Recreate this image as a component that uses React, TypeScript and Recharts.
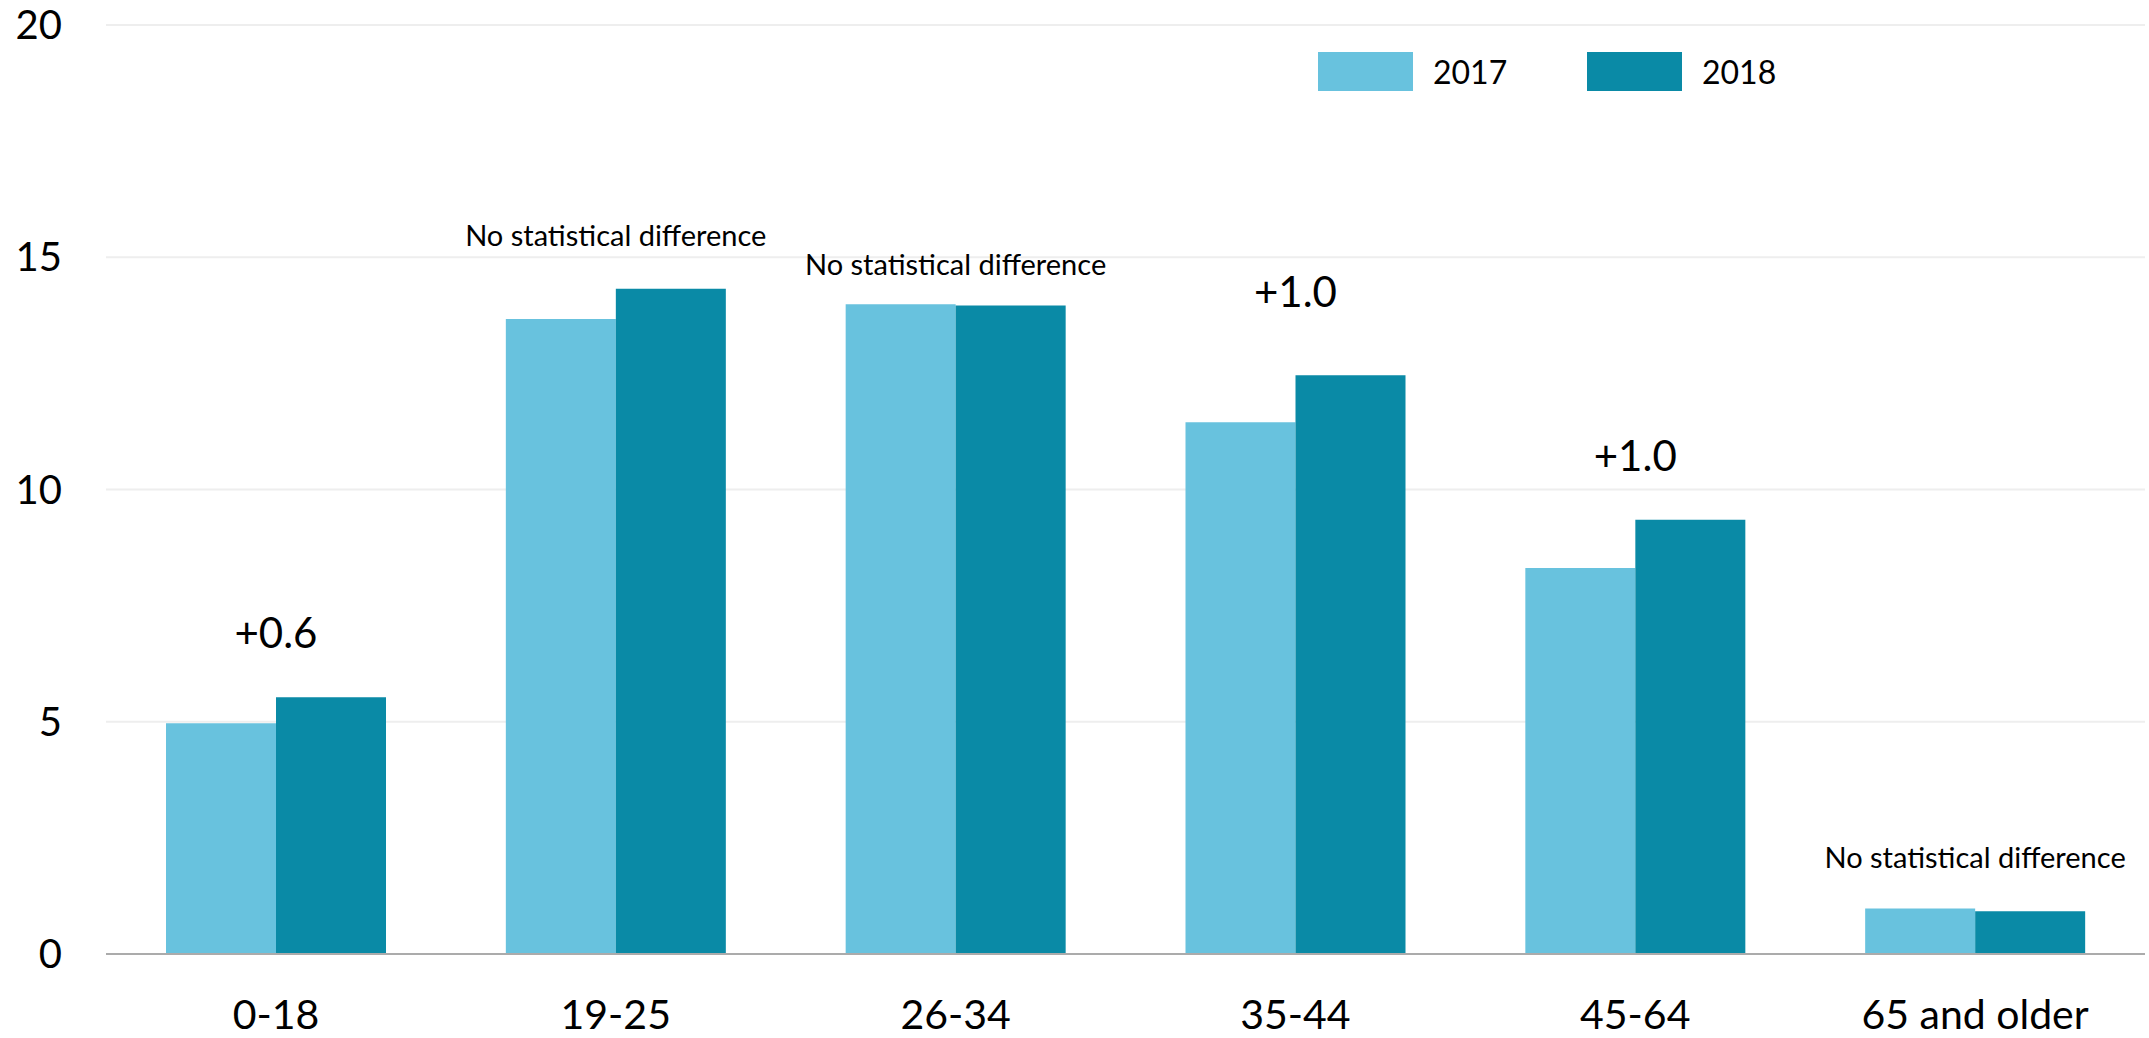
import { BarChart, Bar, XAxis, YAxis, CartesianGrid, ReferenceDot } from 'recharts';

const ageGroups = ['0-18', '19-25', '26-34', '35-44', '45-64', '65 and older'];
const values2017 = [4.97, 13.67, 13.99, 11.45, 8.31, 0.98];
const values2018 = [5.53, 14.32, 13.96, 12.46, 9.35, 0.92];
const yTicks = [0, 5, 10, 15, 20];

const seriesKeys = ['y2017', 'y2018'];
const seriesNames = ['2017', '2018'];
const seriesColors = ['#68c2de', '#0a8aa6'];

// annotation text above each age group, and the value where it sits
const noteTexts = ['+0.6', 'No statistical difference', 'No statistical difference', '+1.0', '+1.0', 'No statistical difference'];
const noteLevels = [6.91, 15.46, 14.83, 14.25, 10.72, 2.07];

const FONT = 'Lato, "Open Sans", sans-serif';

const data = ageGroups.map((group, i) => ({
  group,
  y2017: values2017[i],
  y2018: values2018[i],
}));

export default function App() {
  return (
    <div style={{ position: 'relative', width: 2149, height: 1038, background: '#fff' }}>
      <style>{`body { margin: 0; }`}</style>
      <BarChart
        width={2149}
        height={1038}
        data={data}
        margin={{ top: 25, right: 4, bottom: 0, left: 0 }}
        barGap={0}
        barSize={110}
      >
        <CartesianGrid vertical={false} stroke="#eeeeee" strokeWidth={2} />
        <XAxis
          dataKey="group"
          height={84}
          tickLine={false}
          tickSize={0}
          tickMargin={46}
          axisLine={{ stroke: '#ababab', strokeWidth: 2 }}
          tick={{ fill: '#000', fontSize: 41, fontFamily: FONT }}
        />
        <YAxis
          domain={[0, 20]}
          ticks={yTicks}
          width={106}
          axisLine={false}
          tickLine={false}
          tickSize={0}
          tickMargin={44}
          tick={{ fill: '#000', fontSize: 40, fontFamily: FONT }}
        />
        {seriesKeys.map((k, i) => (
          <Bar key={k} dataKey={k} name={seriesNames[i]} fill={seriesColors[i]} isAnimationActive={false} />
        ))}
        {ageGroups.map((g, i) => (
          <ReferenceDot
            key={g}
            x={g}
            y={noteLevels[i]}
            r={0}
            fill="none"
            stroke="none"
            ifOverflow="visible"
            label={{
              value: noteTexts[i],
              position: 'center',
              fill: '#000',
              fontSize: noteTexts[i].startsWith('+') ? 42 : 29,
              fontFamily: FONT,
            }}
          />
        ))}
      </BarChart>
      {/* legend sits inside the plot, top right */}
      <div style={{ position: 'absolute', top: 52, left: 1318, display: 'flex', fontFamily: FONT }}>
        {seriesNames.map((name, i) => (
          <div key={name} style={{ width: 269, display: 'flex', alignItems: 'center' }}>
            <div style={{ width: 95, height: 39, background: seriesColors[i] }} />
            <span style={{ marginLeft: 20, fontSize: 32, color: '#000' }}>{name}</span>
          </div>
        ))}
      </div>
    </div>
  );
}
